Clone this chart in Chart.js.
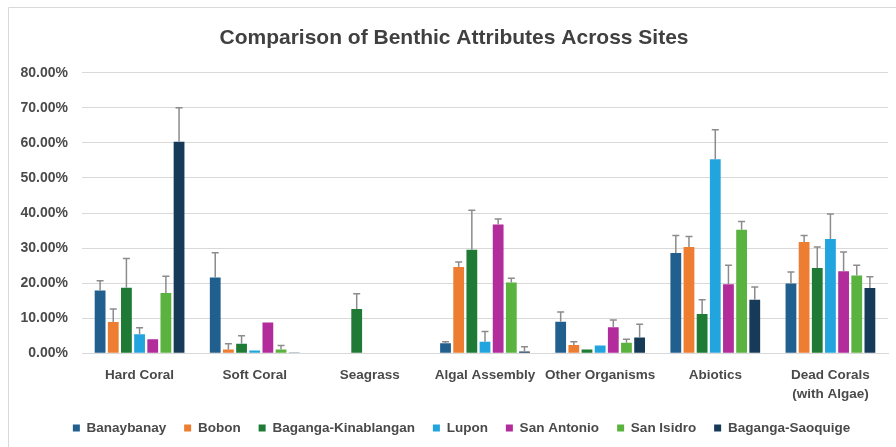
<!DOCTYPE html>
<html>
<head>
<meta charset="utf-8">
<script src="https://cdn.jsdelivr.net/npm/chart.js@4.4.1/dist/chart.umd.min.js"></script>
<style>
  html, body { margin: 0; padding: 0; background: #ffffff; }
  #c { display: block; }
</style>
</head>
<body>
<canvas id="c" width="896" height="447"></canvas>
<script>
const categories = ['Hard Coral', 'Soft Coral', 'Seagrass', 'Algal Assembly', 'Other Organisms', 'Abiotics', ['Dead Corals', '(with Algae)']];
const sites = ['Banaybanay', 'Bobon', 'Baganga-Kinablangan', 'Lupon', 'San Antonio', 'San Isidro', 'Baganga-Saoquige'];

const banaybanay = [17.9, 21.6, 0, 2.9, 9.0, 28.6, 19.9];
const bobon = [8.9, 1.1, 0, 24.6, 2.4, 30.3, 31.7];
const kinablangan = [18.7, 2.7, 12.6, 29.5, 1.1, 11.2, 24.3];
const lupon = [5.4, 0.8, 0, 3.3, 2.2, 55.3, 32.6];
const sanAntonio = [4.0, 8.8, 0, 36.7, 7.4, 19.7, 23.4];
const sanIsidro = [17.2, 1.1, 0, 20.2, 3.0, 35.2, 22.2];
const saoquige = [60.3, 0.2, 0, 0.5, 4.5, 15.3, 18.6];

const banaybanayErr = [2.8, 7.1, 0, 0.4, 2.8, 5.0, 3.3];
const bobonErr = [3.7, 1.6, 0, 1.4, 0.9, 3.0, 1.9];
const kinablanganErr = [8.3, 2.3, 4.4, 11.3, 0, 4.1, 6.0];
const luponErr = [1.9, 0, 0, 2.9, 0, 8.4, 7.1];
const sanAntonioErr = [0, 0, 0, 1.6, 2.1, 5.4, 5.5];
const sanIsidroErr = [4.8, 1.1, 0, 1.2, 1.0, 2.4, 2.9];
const saoquigeErr = [9.7, 0, 0, 1.4, 3.8, 3.6, 3.2];

const yTicks = [0, 10, 20, 30, 40, 50, 60, 70, 80];

const seriesValues = [banaybanay, bobon, kinablangan, lupon, sanAntonio, sanIsidro, saoquige];
const seriesErrors = [banaybanayErr, bobonErr, kinablanganErr, luponErr, sanAntonioErr, sanIsidroErr, saoquigeErr];
const colors = ['#215f8f', '#ed7d31', '#1f7a35', '#22a5de', '#b22d9b', '#5bb33f', '#173a58'];

const FONT = '"Liberation Sans", Arial, sans-serif';

const frameBg = {
  id: 'frameBg',
  beforeDraw(chart) {
    const ctx = chart.ctx;
    ctx.save();
    ctx.fillStyle = '#ffffff';
    ctx.fillRect(0, 0, chart.width, chart.height);
    ctx.strokeStyle = '#d9d9d9';
    ctx.lineWidth = 1;
    ctx.beginPath();
    ctx.moveTo(8.5, chart.height + 5);
    ctx.lineTo(8.5, 7.5);
    ctx.lineTo(chart.width + 5, 7.5);
    ctx.stroke();
    ctx.restore();
  }
};

// shift the title and legend horizontally to the reference centres
const centreShift = {
  id: 'centreShift',
  afterLayout(chart) {
    if (chart.legend) { chart.legend.left += 17.5; chart.legend.right += 17.5; }
    if (chart.titleBlock) { chart.titleBlock.left += 10; chart.titleBlock.right += 10; }
  }
};

const errorBars = {
  id: 'errorBars',
  afterDatasetsDraw(chart) {
    const ctx = chart.ctx;
    const yScale = chart.scales.y;
    ctx.save();
    ctx.strokeStyle = '#8c8c8c';
    ctx.lineWidth = 1.5;
    chart.data.datasets.forEach((ds, i) => {
      const meta = chart.getDatasetMeta(i);
      meta.data.forEach((bar, j) => {
        const e = ds.errors[j];
        if (!e) return;
        const yTop = yScale.getPixelForValue(ds.data[j] + e);
        const x = bar.x;
        ctx.beginPath();
        ctx.moveTo(x, bar.y);
        ctx.lineTo(x, yTop);
        ctx.moveTo(x - 3.5, yTop);
        ctx.lineTo(x + 3.5, yTop);
        ctx.stroke();
      });
    });
    ctx.restore();
  }
};

new Chart(document.getElementById('c'), {
  type: 'bar',
  data: {
    labels: categories,
    datasets: sites.map((s, i) => ({
      label: s,
      data: seriesValues[i],
      errors: seriesErrors[i],
      backgroundColor: colors[i],
      borderWidth: 0,
      categoryPercentage: 0.8,
      barPercentage: 0.82
    }))
  },
  options: {
    responsive: false,
    animation: false,
    devicePixelRatio: 1,
    layout: { padding: { left: 0, right: 8, top: 0, bottom: 2.2 } },
    plugins: {
      title: {
        display: true,
        text: 'Comparison of Benthic Attributes Across Sites',
        color: '#404040',
        font: { family: FONT, size: 21, weight: 'bold', lineHeight: 1.2 },
        padding: { top: 25.4, bottom: 22.1 }
      },
      legend: {
        position: 'bottom',
        labels: {
          boxWidth: 7,
          boxHeight: 7,
          padding: 18,
          color: '#4a4a4a',
          font: { family: FONT, size: 13.5, weight: 'bold' }
        }
      },
      tooltip: { enabled: false }
    },
    scales: {
      x: {
        grid: { display: false, drawTicks: false },
        border: { display: true, color: '#d9d9d9' },
        ticks: {
          padding: 13,
          color: '#4a4a4a',
          maxRotation: 0,
          autoSkip: false,
          font: { family: FONT, size: 13.5, weight: 'bold', lineHeight: '18.5px' }
        },
        afterFit(scale) { scale.height = 50; }
      },
      y: {
        min: 0,
        max: 80,
        afterBuildTicks(scale) { scale.ticks = yTicks.map(v => ({ value: v })); },
        ticks: {
          padding: 14,
          color: '#4a4a4a',
          font: { family: FONT, size: 14, weight: 'bold' },
          callback: v => Number(v).toFixed(2) + '%'
        },
        grid: { color: '#d9d9d9', drawTicks: false, lineWidth: 1 },
        border: { display: false },
        afterFit(scale) { scale.width = 82; }
      }
    }
  },
  plugins: [frameBg, centreShift, errorBars]
});
</script>
</body>
</html>
